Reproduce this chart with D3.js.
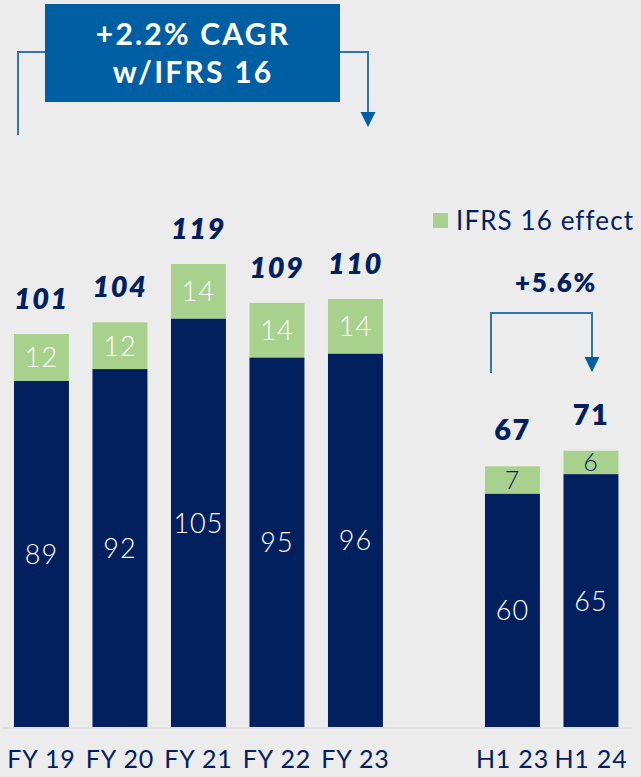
<!DOCTYPE html>
<html>
<head>
<meta charset="utf-8">
<script src="https://cdn.jsdelivr.net/npm/d3@7"></script>
<style>
  body { margin: 0; background: #ececec; }
  svg { display: block; font-family: "Lato", "Noto Sans", sans-serif; }
</style>
</head>
<body>
<svg id="chart" width="641" height="777"></svg>
<script>
// data
const categories = ["FY 19", "FY 20", "FY 21", "FY 22", "FY 23", "H1 23", "H1 24"];
const baseValues = [89, 92, 105, 95, 96, 60, 65];
const ifrsValues = [12, 12, 14, 14, 14, 7, 6];
const totals = [101, 104, 119, 109, 110, 67, 71];

const navy = "#03205e", green = "#a9d18e", blue = "#005fa3", lineBlue = "#2e75b6";

let svg = d3.select("#chart");

// background
svg.append("rect").attr("width", 641).attr("height", 777).attr("fill", "#ececec");

// blank slot between FY and H1 groups
let x = d3.scaleBand()
    .domain(["FY 19", "FY 20", "FY 21", "FY 22", "FY 23", "gap", "H1 23", "H1 24"])
    .range([2.2, 630.2])
    .paddingInner(0.3)
    .paddingOuter(0.15);

let y = d3.scaleLinear().domain([0, 119]).range([727, 264]);

let rows = categories.map((c, i) => ({cat: c, base: baseValues[i], ifrs: ifrsValues[i], total: totals[i], half: c.startsWith("H1")}));

// axis line
svg.append("line").attr("x1", 3).attr("x2", 632).attr("y1", 728).attr("y2", 728)
    .attr("stroke", "#d3d3d3").attr("stroke-width", 1.2);

let g = svg.selectAll(".bar").data(rows).enter().append("g").attr("class", "bar");

g.append("rect")
    .attr("x", d => x(d.cat)).attr("width", x.bandwidth())
    .attr("y", d => y(d.base)).attr("height", d => y(0) - y(d.base))
    .attr("fill", navy);

g.append("rect")
    .attr("x", d => x(d.cat)).attr("width", x.bandwidth())
    .attr("y", d => y(d.total)).attr("height", d => y(d.base) - y(d.total))
    .attr("fill", green);

// value inside navy segment
g.append("text")
    .attr("x", d => x(d.cat) + x.bandwidth() / 2)
    .attr("y", d => (y(d.base) + y(0)) / 2 + 10)
    .attr("text-anchor", "middle")
    .attr("fill", "#fff").attr("font-size", 27).attr("font-weight", 300)
    .attr("letter-spacing", 1)
    .text(d => d.base);

// value inside green segment
g.append("text")
    .attr("x", d => x(d.cat) + x.bandwidth() / 2)
    .attr("y", d => (y(d.total) + y(d.base)) / 2 + (d.half ? 9 : 10))
    .attr("text-anchor", "middle")
    .attr("fill", d => d.half ? navy : "#fff")
    .attr("font-size", d => d.half ? 25 : 27).attr("font-weight", 300)
    .attr("letter-spacing", 1)
    .text(d => d.ifrs);

// totals
g.append("text")
    .attr("x", d => x(d.cat) + x.bandwidth() / 2)
    .attr("y", d => y(d.total) - (d.half ? 26 : 25))
    .attr("text-anchor", "middle")
    .attr("fill", navy).attr("font-size", 29).attr("font-weight", 800)
    .attr("letter-spacing", 1.5)
    .attr("font-style", d => d.half ? "normal" : "italic")
    .text(d => d.total);

// category labels
svg.append("g").selectAll("text").data(categories).enter().append("text")
    .attr("x", d => x(d) + x.bandwidth() / 2)
    .attr("y", 768)
    .attr("text-anchor", "middle")
    .attr("fill", navy).attr("font-size", 25).attr("letter-spacing", 0.8)
    .text(d => d);

// legend
svg.append("rect").attr("x", 433).attr("y", 213).attr("width", 15).attr("height", 15).attr("fill", green);
svg.append("text").attr("x", 456).attr("y", 230).attr("fill", navy).attr("font-size", 26)
    .attr("letter-spacing", 1.1)
    .text("IFRS 16 effect");

function bracket(x0, x1, yTop, yLeft, yRight) {
    svg.append("path")
        .attr("d", `M${x0},${yLeft}V${yTop}H${x1}V${yRight - 14}`)
        .attr("fill", "none").attr("stroke", lineBlue).attr("stroke-width", 2);
    svg.append("path")
        .attr("d", `M${x1 - 7.5},${yRight - 15}L${x1 + 7.5},${yRight - 15}L${x1},${yRight}Z`)
        .attr("fill", blue);
}

// CAGR bracket + box
bracket(18, 368, 52, 135, 127);
svg.append("rect").attr("x", 45).attr("y", 4).attr("width", 295).attr("height", 98).attr("fill", blue);
svg.append("text").attr("x", 193).attr("y", 45).attr("text-anchor", "middle")
    .attr("fill", "#fff").attr("font-size", 30).attr("font-weight", 700)
    .attr("letter-spacing", 2.2).text("+2.2% CAGR");
svg.append("text").attr("x", 193).attr("y", 83).attr("text-anchor", "middle")
    .attr("fill", "#fff").attr("font-size", 30).attr("font-weight", 700)
    .attr("letter-spacing", 2.2).text("w/IFRS 16");

// H1 bracket
bracket(491, 592, 313, 373, 372);
svg.append("text").attr("x", 556).attr("y", 292).attr("text-anchor", "middle")
    .attr("fill", navy).attr("font-size", 26).attr("font-weight", 800)
    .attr("letter-spacing", 1.8).text("+5.6%");
</script>
</body>
</html>
